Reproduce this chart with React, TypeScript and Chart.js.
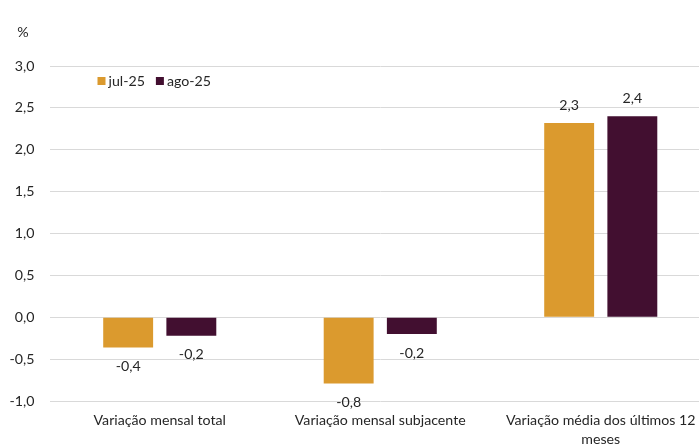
import React, { useEffect, useRef } from "react";
import { Chart, registerables } from "chart.js";

Chart.register(...registerables);

const categories: (string | string[])[] = [
  "Variação mensal total",
  "Variação mensal subjacente",
  ["Variação média dos últimos 12", "meses"],
];
const seriesNames = ["jul-25", "ago-25"];
const jul25 = [-0.36, -0.79, 2.32];
const ago25 = [-0.22, -0.2, 2.4];
const colors = ["#DB9A2E", "#420F30"];
const yMin = -1.0;
const yMax = 3.0;
const yStep = 0.5;
const unitLabel = "%";

const FONT = "Lato";
const FS = 14.2;
const TEXT = "#262626";

const fmt = (v: number) => v.toFixed(1).replace(".", ",");

const extrasPlugin = {
  id: "extras",
  afterDatasetsDraw(chart: any) {
    const ctx = chart.ctx;
    ctx.save();
    ctx.font = `${FS}px ${FONT}`;
    ctx.fillStyle = TEXT;
    ctx.textAlign = "center";
    chart.data.datasets.forEach((ds: any, di: number) => {
      const meta = chart.getDatasetMeta(di);
      meta.data.forEach((bar: any, i: number) => {
        const v = ds.data[i];
        ctx.textBaseline = "middle";
        if (v >= 0) {
          ctx.fillText(fmt(v), bar.x, bar.y - 18);
        } else {
          ctx.fillText(fmt(v), bar.x, bar.y + 19);
        }
      });
    });
    // unit label
    ctx.textAlign = "center";
    ctx.textBaseline = "middle";
    ctx.fillText(unitLabel, 23, 32);
    // legend
    const area = chart.chartArea;
    let x = area.left + 48;
    const y = 81;
    ctx.textAlign = "left";
    chart.data.datasets.forEach((ds: any) => {
      ctx.fillStyle = ds.backgroundColor;
      ctx.fillRect(x, y - 4, 8, 8);
      ctx.fillStyle = TEXT;
      ctx.fillText(ds.label, x + 11, y);
      x += 11 + ctx.measureText(ds.label).width + 11;
    });
    ctx.restore();
  },
};

export default function App() {
  const ref = useRef<HTMLCanvasElement>(null);
  useEffect(() => {
    if (!ref.current) return;
    const chart = new Chart(ref.current, {
      type: "bar",
      data: {
        labels: categories,
        datasets: [
          { label: seriesNames[0], data: jul25, backgroundColor: colors[0] },
          { label: seriesNames[1], data: ago25, backgroundColor: colors[1] },
        ],
      },
      options: {
        animation: false,
        responsive: false,
        devicePixelRatio: 1,
        layout: { padding: { top: 66, left: 0, right: 0, bottom: 0 } },
        plugins: { legend: { display: false }, tooltip: { enabled: false } },
        datasets: { bar: { categoryPercentage: 0.573, barPercentage: 0.79 } },
        scales: {
          x: {
            grid: { display: false, drawTicks: false },
            border: { display: false },
            ticks: { color: TEXT, font: { family: FONT, size: FS, lineHeight: 1.35 }, padding: 10, maxRotation: 0, autoSkip: false },
            afterFit: (s: any) => { s.height = 45; },
          },
          y: {
            min: yMin,
            max: yMax,
            grid: { color: "#D9D9D9", lineWidth: 1, drawTicks: false },
            border: { display: false },
            ticks: {
              stepSize: yStep,
              color: TEXT,
              font: { family: FONT, size: FS },
              padding: 15,
              callback: (v: any) => fmt(Number(v)),
            },
            afterFit: (s: any) => { s.width = 49.5; },
          },
        },
      },
      plugins: [extrasPlugin],
    } as any);
    return () => chart.destroy();
  }, []);
  return (
    <div style={{ position: "fixed", left: 0, top: 0, width: 699, height: 446, overflow: "hidden", background: "#fff" }}>
      <canvas ref={ref} width={711} height={446} style={{ display: "block" }} />
    </div>
  );
}
